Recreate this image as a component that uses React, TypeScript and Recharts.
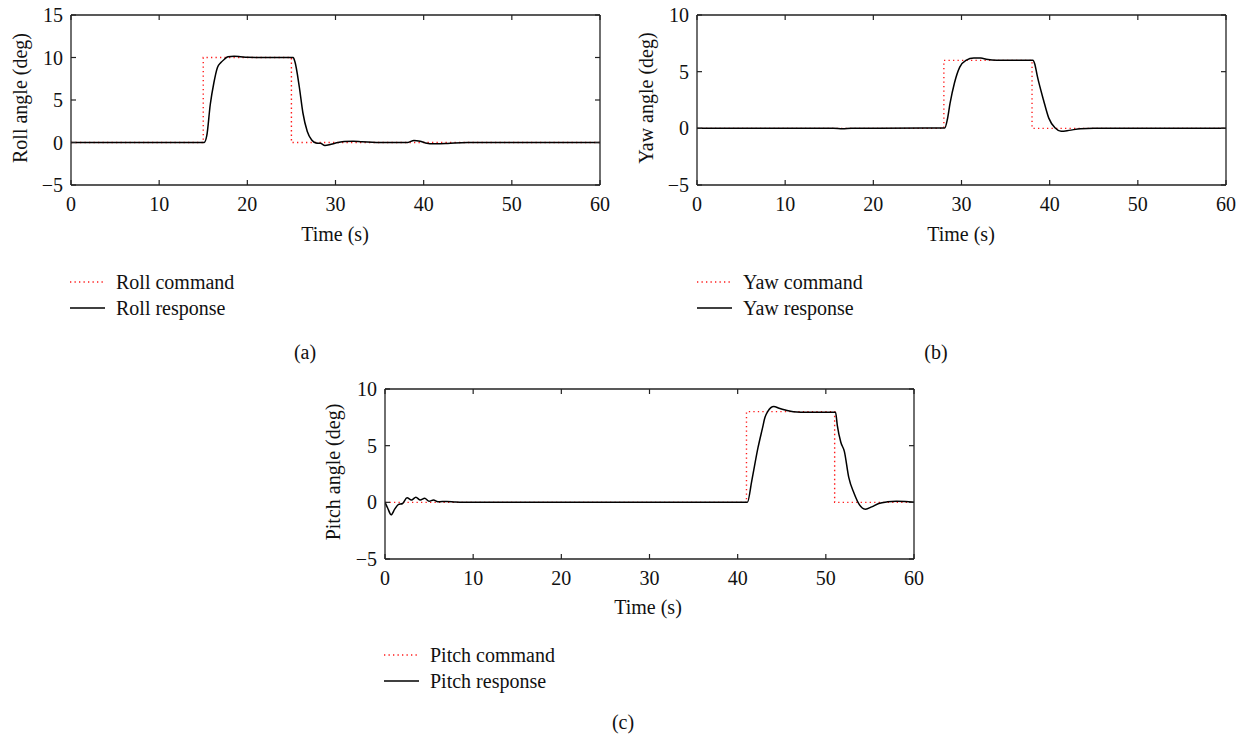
import React from "react";
import { LineChart, Line, XAxis, YAxis } from "recharts";

// ---------- data ----------
const timeTicks = [0, 10, 20, 30, 40, 50, 60];
const rollTicks = [-5, 0, 5, 10, 15];
const yawTicks = [-5, 0, 5, 10];
const pitchTicks = [-5, 0, 5, 10];

const rollCommandT = [0, 15, 15, 25, 25, 60];
const rollCommandV = [0, 0, 10, 10, 0, 0];
const rollResponseT = [0, 15.1, 15.4, 15.8, 16.2, 16.6, 17.0, 17.4, 17.8, 18.5, 19.2, 20, 22, 25.2, 25.4, 25.9, 26.3, 26.8, 27.3, 27.8, 28.3, 28.8, 29.5, 30.3, 31.0, 32.0, 33.0, 35, 38.2, 38.9, 39.6, 40.2, 41.2, 42.5, 43.5, 45, 60];
const rollResponseV = [0, 0, 0.8, 4.5, 7.0, 8.8, 9.4, 9.8, 10.1, 10.15, 10.1, 10.02, 10.0, 10.0, 9.5, 6.5, 3.5, 1.3, 0.3, -0.05, -0.1, -0.35, -0.2, 0.0, 0.12, 0.15, 0.08, 0.0, 0.0, 0.25, 0.15, -0.05, -0.15, -0.12, -0.05, 0, 0];

const yawCommandT = [0, 28, 28, 38, 38, 60];
const yawCommandV = [0, 0, 6, 6, 0, 0];
const yawResponseT = [0, 15.5, 16.5, 17.5, 26, 28.1, 28.4, 28.7, 29.2, 29.8, 30.5, 31.4, 32.2, 32.8, 34, 38.1, 38.3, 38.6, 39.3, 39.9, 40.6, 41.3, 42.2, 43.5, 45, 60];
const yawResponseV = [0, 0, -0.03, 0, 0.02, 0.02, 0.8, 2.2, 4.0, 5.4, 6.0, 6.2, 6.2, 6.1, 6.0, 6.0, 5.7, 4.6, 2.5, 0.9, 0.05, -0.25, -0.18, -0.03, 0, 0];

const pitchCommandT = [0, 41, 41, 51, 51, 60];
const pitchCommandV = [0, 0, 8, 8, 0, 0];
const pitchResponseT = [0, 0.3, 0.7, 1.1, 1.5, 2.0, 2.5, 3.0, 3.5, 4.0, 4.5, 5.0, 5.5, 6.0, 7.0, 8, 9, 41.1, 41.6, 42.3, 42.8, 43.1, 43.4, 44.1, 44.7, 45.4, 46.3, 48, 51.1, 51.3, 51.7, 52.1, 52.6, 53.2, 53.8, 54.5, 55.2, 56, 57, 58, 59, 60];
const pitchResponseV = [0, -0.5, -1.1, -0.6, -0.2, -0.1, 0.4, 0.2, 0.45, 0.2, 0.35, 0.1, 0.2, 0.05, 0.08, 0.02, 0, 0, 1.9, 4.8, 6.5, 7.5, 8.0, 8.45, 8.3, 8.15, 8.0, 7.95, 7.95, 6.8, 5.3, 4.5, 2.2, 0.8, -0.2, -0.6, -0.4, -0.1, 0.05, 0.1, 0.08, 0];

// ---------- helpers ----------
const FONT = "'Liberation Serif', 'Times New Roman', serif";
const FS = 20;
const FRAME = "#222";
const toRows = (t: number[], v: number[]) => t.map((x, i) => ({ t: x, v: v[i] }));
const fmt = (v: number) => (v < 0 ? "\u2212" + Math.abs(v) : String(v));

const BottomTick = (props: any) => {
  const { x, y, payload } = props;
  return (
    <g>
      <line x1={x} x2={x} y1={y} y2={y - 5} stroke={FRAME} strokeWidth={1.2} />
      <text x={x} y={y + 19} textAnchor="middle" dominantBaseline="central" fontFamily={FONT} fontSize={FS} fill="#111">
        {fmt(payload.value)}
      </text>
    </g>
  );
};
const TopTick = (props: any) => {
  const { x, y } = props;
  return <line x1={x} x2={x} y1={y} y2={y + 5} stroke={FRAME} strokeWidth={1.2} />;
};
const LeftTick = (props: any) => {
  const { x, y, payload } = props;
  return (
    <g>
      <line x1={x} x2={x + 5} y1={y} y2={y} stroke={FRAME} strokeWidth={1.2} />
      <text x={x - 8} y={y} textAnchor="end" dominantBaseline="central" fontFamily={FONT} fontSize={FS} fill="#111">
        {fmt(payload.value)}
      </text>
    </g>
  );
};
const RightTick = (props: any) => {
  const { x, y } = props;
  return <line x1={x} x2={x - 5} y1={y} y2={y} stroke={FRAME} strokeWidth={1.2} />;
};

type PanelProps = {
  left: number;
  top: number;
  yDomain: [number, number];
  yTicks: number[];
  cmd: { t: number; v: number }[];
  resp: { t: number; v: number }[];
};

const axisLine = { stroke: FRAME, strokeWidth: 1.3 };

const Panel = ({ left, top, yDomain, yTicks, cmd, resp }: PanelProps) => (
  <div style={{ position: "absolute", left, top }}>
    <LineChart width={620} height={260} margin={{ top: 14, left: 70, right: 19, bottom: 74 }}>
      <XAxis
        xAxisId="b"
        dataKey="t"
        type="number"
        domain={[0, 60]}
        ticks={timeTicks}
        orientation="bottom"
        height={1}
        tickSize={0}
        tickMargin={0}
        tickLine={false}
        axisLine={axisLine}
        tick={<BottomTick />}
        interval={0}
        allowDataOverflow
      />
      <XAxis
        xAxisId="t"
        dataKey="t"
        type="number"
        domain={[0, 60]}
        ticks={timeTicks}
        orientation="top"
        height={1}
        tickSize={0}
        tickMargin={0}
        tickLine={false}
        axisLine={axisLine}
        tick={<TopTick />}
        interval={0}
        allowDataOverflow
      />
      <YAxis
        yAxisId="l"
        type="number"
        domain={yDomain}
        ticks={yTicks}
        orientation="left"
        width={1}
        tickSize={0}
        tickMargin={0}
        tickLine={false}
        axisLine={axisLine}
        tick={<LeftTick />}
        interval={0}
        allowDataOverflow
      />
      <YAxis
        yAxisId="r"
        type="number"
        domain={yDomain}
        ticks={yTicks}
        orientation="right"
        width={1}
        tickSize={0}
        tickMargin={0}
        tickLine={false}
        axisLine={axisLine}
        tick={<RightTick />}
        interval={0}
        allowDataOverflow
      />
      <Line
        xAxisId="b"
        yAxisId="l"
        data={cmd}
        dataKey="v"
        type="linear"
        stroke="#ff1a1a"
        strokeWidth={1.4}
        strokeDasharray="1.3 3.2"
        dot={false}
        isAnimationActive={false}
      />
      <Line
        xAxisId="b"
        yAxisId="l"
        data={resp}
        dataKey="v"
        type="monotone"
        stroke="#000"
        strokeWidth={1.5}
        dot={false}
        isAnimationActive={false}
      />
    </LineChart>
  </div>
);

const Txt = ({ x, y, children, anchor = "center", rotate = false, size = FS }: any) => (
  <div
    style={{
      position: "absolute",
      left: x,
      top: y,
      transform:
        (anchor === "center" ? "translate(-50%,-50%)" : "translate(0,-50%)") + (rotate ? " rotate(-90deg)" : ""),
      whiteSpace: "nowrap",
      fontFamily: FONT,
      fontSize: size,
      color: "#111",
      lineHeight: 1,
    }}
  >
    {children}
  </div>
);

const LegendBlock = ({ x, y, labels }: { x: number; y: number; labels: [string, string] }) => (
  <>
    <svg style={{ position: "absolute", left: x, top: y - 10 }} width={36} height={46}>
      <line x1={0} x2={35} y1={10} y2={10} stroke="#ff1a1a" strokeWidth={1.4} strokeDasharray="1.3 3.2" />
      <line x1={0} x2={35} y1={36} y2={36} stroke="#000" strokeWidth={1.5} />
    </svg>
    <Txt x={x + 46} y={y} anchor="left">{labels[0]}</Txt>
    <Txt x={x + 46} y={y + 26} anchor="left">{labels[1]}</Txt>
  </>
);

export default function App() {
  const rollCmd = toRows(rollCommandT, rollCommandV);
  const rollResp = toRows(rollResponseT, rollResponseV);
  const yawCmd = toRows(yawCommandT, yawCommandV);
  const yawResp = toRows(yawResponseT, yawResponseV);
  const pitchCmd = toRows(pitchCommandT, pitchCommandV);
  const pitchResp = toRows(pitchResponseT, pitchResponseV);
  return (
    <div style={{ position: "fixed", left: 0, top: 0, width: 1250, height: 740, background: "#fff", overflow: "hidden" }}>
      <Panel left={0} top={0} yDomain={[-5, 15]} yTicks={rollTicks} cmd={rollCmd} resp={rollResp} />
      <Panel left={626} top={0} yDomain={[-5, 10]} yTicks={yawTicks} cmd={yawCmd} resp={yawResp} />
      <Panel left={314} top={374} yDomain={[-5, 10]} yTicks={pitchTicks} cmd={pitchCmd} resp={pitchResp} />

      <Txt x={20} y={98} rotate>Roll angle (deg)</Txt>
      <Txt x={335} y={234}>Time (s)</Txt>
      <LegendBlock x={70} y={282} labels={["Roll command", "Roll response"]} />
      <Txt x={305} y={352}>(a)</Txt>

      <Txt x={646} y={98} rotate>Yaw angle (deg)</Txt>
      <Txt x={961} y={234}>Time (s)</Txt>
      <LegendBlock x={697} y={282} labels={["Yaw command", "Yaw response"]} />
      <Txt x={936} y={352}>(b)</Txt>

      <Txt x={333} y={472} rotate>Pitch angle (deg)</Txt>
      <Txt x={648} y={607}>Time (s)</Txt>
      <LegendBlock x={384} y={655} labels={["Pitch command", "Pitch response"]} />
      <Txt x={623} y={722}>(c)</Txt>
    </div>
  );
}
